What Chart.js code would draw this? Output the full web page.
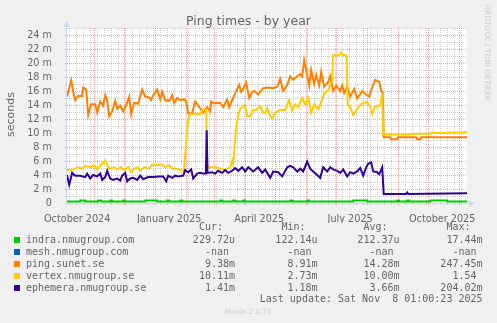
<!DOCTYPE html>
<html>
<head>
<meta charset="utf-8">
<title>Ping times - by year</title>
<script src="https://cdn.jsdelivr.net/npm/chart.js@4.4.1/dist/chart.umd.min.js"></script>
<style>
  html, body { margin: 0; padding: 0; background: #F0F0F0; }
  canvas { display: block; }
</style>
</head>
<body>
<canvas id="pingChart" width="497" height="323"></canvas>
<script>
// Munin style "ping times by year" graph.
// x values are days counted from 1 Oct 2024, y values are milliseconds.

const titleText = 'Ping times - by year';
const unitText = 'seconds';

// y ticks (ms) and month labels on the x axis
const yTickMs = [0, 2, 4, 6, 8, 10, 12, 14, 16, 18, 20, 22, 24];
const xLabelDay = [14, 106, 196, 287, 379];
const xLabelText = ['October 2024', 'January 2025', 'April 2025', 'July 2025', 'October 2025'];

// indra.nmugroup.com
const indraDay = [3.8, 17, 22, 35, 38, 47, 49, 60, 62, 82, 94, 104, 106, 117, 119, 157, 159, 170, 172, 180, 182,
  227, 229, 244, 246, 290, 304, 334, 336, 344, 346, 367, 384, 403.8];
const indraMs = [0.22, 0.36, 0.22, 0.36, 0.22, 0.36, 0.22, 0.36, 0.22, 0.36, 0.22, 0.36, 0.22, 0.36, 0.22, 0.36, 0.22, 0.36, 0.22, 0.36, 0.22,
  0.36, 0.22, 0.36, 0.22, 0.36, 0.22, 0.36, 0.22, 0.36, 0.22, 0.36, 0.22, 0.23];

// mesh.nmugroup.com never answered
const meshDay = [];
const meshMs = [];

// ping.sunet.se
const sunetDay = [3.8, 8, 10, 12, 15, 19, 20, 23, 25, 28,
  32, 34, 37, 40, 42, 44, 46, 49, 52, 54,
  57, 60, 63, 66, 68, 71, 75, 79, 82, 86,
  88, 90, 94, 97, 99, 102, 106, 109, 111, 114,
  117, 121, 123, 125, 129, 132, 135, 137, 140, 144,
  147, 148, 150, 157, 160, 164, 166, 170, 172, 176,
  178, 181, 183, 186, 189, 191, 195, 197, 200, 205,
  210, 214, 217, 220, 224, 227, 230, 234, 237, 239,
  241, 243, 246, 248, 251, 253, 256, 258, 261, 265,
  267, 270, 273, 277, 279, 281, 284, 287, 291, 294,
  299, 302, 306, 309, 312, 316, 318, 319.5, 320.5, 327,
  328, 334, 335, 353, 354, 357, 358, 403.8];
const sunetMs = [15.2, 17.5, 15.9, 14.7, 15.3, 15.3, 16.5, 16.2, 12.6, 14.1,
  14.1, 12.9, 14.5, 13.9, 15.4, 14.7, 12.4, 13.1, 14.6, 13.5,
  13.9, 13.1, 14.0, 15.2, 12.7, 14.3, 14.2, 16.2, 15.2, 15.1,
  14.7, 15.4, 16.2, 14.8, 15.9, 14.7, 14.6, 15.4, 14.3, 15.0,
  14.7, 14.8, 14.5, 12.8, 12.9, 14.5, 13.9, 13.5, 12.9, 13.7,
  13.1, 14.5, 14.3, 14.3, 13.7, 14.8, 13.7, 15.0, 15.7, 16.9,
  15.9, 16.6, 17.2, 15.0, 15.9, 16.0, 15.5, 15.9, 16.4, 16.5,
  16.4, 16.6, 17.7, 16.0, 16.8, 18.1, 17.6, 18.1, 18.4, 18.1,
  20.4, 19.0, 16.8, 19.0, 17.0, 18.3, 16.8, 18.7, 16.6, 17.3,
  18.1, 16.0, 16.8, 16.0, 16.8, 15.7, 16.6, 15.2, 16.3, 14.9,
  16.0, 15.6, 15.2, 16.5, 17.6, 17.3, 16.0, 15.8, 9.4, 9.4,
  9.1, 9.1, 9.4, 9.4, 9.1, 9.1, 9.4, 9.38];

// vertex.nmugroup.se
const vertexDay = [3.8, 9, 12, 15, 19, 22, 27, 31, 34, 37,
  42, 46, 51, 54, 58, 61, 65, 68, 71, 75,
  77, 81, 86, 89, 94, 99, 102, 106, 109, 114,
  117, 120, 121, 124.5, 127, 130, 137, 139, 141, 143,
  144, 147, 154, 157, 162, 167, 169, 170, 173, 175.5,
  177, 180, 182, 184, 187, 190, 193, 197, 200, 202,
  204, 207, 209, 212, 217, 222, 226, 229, 232, 235,
  239, 242, 245, 248, 251, 255, 258, 261, 265, 268,
  269, 270, 276, 278, 280, 283.5, 284.5, 287, 290, 294,
  297, 300, 304, 307, 309, 312, 316, 317, 319, 320,
  347, 350, 367, 369, 372, 403.8];
const vertexMs = [4.7, 4.7, 4.9, 5.1, 4.9, 5.3, 5.1, 5.4, 4.8, 5.3,
  6.1, 4.9, 5.1, 4.8, 5.1, 4.7, 5.1, 4.4, 4.9, 5.1,
  4.6, 5.1, 4.9, 5.5, 5.4, 5.5, 5.1, 5.4, 4.9, 4.9,
  4.7, 4.6, 5.0, 11.4, 12.8, 12.7, 12.7, 13.3, 13.4, 13.3,
  5.3, 5.1, 5.1, 4.9, 4.7, 5.1, 6.1, 5.6, 10.9, 12.8,
  13.5, 13.8, 14.0, 12.4, 12.4, 13.3, 13.3, 13.8, 12.9, 12.9,
  13.5, 12.4, 12.1, 12.9, 13.3, 13.3, 14.7, 13.2, 14.1, 13.7,
  15.0, 14.1, 15.0, 12.9, 14.1, 13.4, 14.4, 15.7, 16.1, 17.1,
  17.5, 21.1, 21.1, 21.5, 21.1, 21.1, 14.0, 13.7, 12.6, 13.4,
  14.0, 14.3, 14.4, 13.7, 12.7, 13.8, 13.9, 14.0, 15.7, 9.8,
  9.8, 9.9, 9.9, 10.1, 10.0, 10.11];

// ephemera.nmugroup.se
const ephemeraDay = [3.8, 6, 9, 12, 17, 22, 24, 27, 30, 34,
  37, 39, 42, 44, 47, 50, 54, 57, 59, 62,
  64, 67, 70, 74, 77, 80, 85, 90, 95, 100,
  103, 105, 109, 112, 115, 120, 122, 125, 128, 130,
  134, 137, 140, 142.7, 143.5, 144.3, 149, 152, 155, 159,
  162, 165, 169, 172, 175, 179, 182, 185, 190, 195,
  199, 202, 207, 210, 215, 219, 224, 227, 230, 234,
  237, 240, 244, 247, 250, 254, 257, 260, 264, 267,
  270, 274, 277, 280, 284, 287, 290, 294, 297, 300,
  303, 305, 308, 310, 314, 316, 319, 320.5, 343, 344,
  345, 403.8];
const ephemeraMs = [4.0, 2.6, 4.3, 3.9, 3.9, 3.7, 4.2, 3.5, 4.0, 3.8,
  4.2, 3.3, 3.7, 4.6, 3.5, 3.3, 3.5, 3.2, 3.9, 4.3,
  3.1, 3.5, 3.6, 3.3, 3.9, 3.4, 3.7, 3.7, 3.8, 3.8,
  3.1, 3.9, 3.6, 3.9, 3.8, 3.9, 4.7, 4.4, 4.8, 3.5,
  4.2, 4.3, 4.2, 4.2, 10.4, 4.3, 4.4, 4.2, 4.6, 4.3,
  4.7, 4.3, 4.6, 5.0, 4.6, 5.1, 4.5, 5.1, 4.5, 5.1,
  4.3, 4.8, 3.6, 4.5, 4.4, 3.8, 5.1, 5.3, 5.1, 4.5,
  4.9, 4.5, 5.9, 4.9, 4.5, 4.0, 3.6, 5.1, 4.5, 5.1,
  4.8, 4.6, 4.3, 4.8, 3.8, 4.4, 4.2, 4.5, 5.0, 3.9,
  5.1, 5.6, 5.8, 4.5, 4.4, 4.1, 5.1, 1.3, 1.3, 1.5,
  1.3, 1.41];

// legend table
const hostNames = ['indra.nmugroup.com', 'mesh.nmugroup.com', 'ping.sunet.se', 'vertex.nmugroup.se', 'ephemera.nmugroup.se'];
const hostColors = ['#00CC00', '#0066B3', '#FF8000', '#FFCC00', '#330099'];
const curText = ['229.72u', '-nan ', '9.38m', '10.11m', '1.41m'];
const minText = ['122.14u', '-nan ', '8.91m', '2.73m', '1.18m'];
const avgText = ['212.37u', '-nan ', '14.28m', '10.00m', '3.66m'];
const maxText = ['17.44m', '-nan ', '247.45m', '1.54 ', '204.02m'];
const colHeads = ['Cur:', 'Min:', 'Avg:', 'Max:'];
const lastUpdate = 'Last update: Sat Nov  8 01:00:23 2025';
const muninVersion = 'Munin 2.0.73';
const sideNote = 'RRDTOOL / TOBI OETIKER';

const DAY0 = Date.UTC(2024, 9, 1);
const dayOf = (y, m, d) => (Date.UTC(y, m, d) - DAY0) / 86400000;
const pts = (days, vals) => days.map((d, i) => ({x: d, y: vals[i]}));

const FONT = '"DejaVu Sans", "Liberation Sans", sans-serif';
const MONO = '"DejaVu Sans Mono", "Liberation Mono", monospace';
const TEXT = '#666666';
const AXIS = '#CFD6F8';
const GRID_MINOR = 'rgba(140,140,140,0.4)';
const GRID_MAJOR = 'rgba(210,60,60,0.45)';

function hline(ctx, x1, x2, y) { ctx.beginPath(); ctx.moveTo(x1, y); ctx.lineTo(x2, y); ctx.stroke(); }
function vline(ctx, x, y1, y2) { ctx.beginPath(); ctx.moveTo(x, y1); ctx.lineTo(x, y2); ctx.stroke(); }

// background, dotted grid and the axes with arrows, rrdtool style
const rrdFrame = {
  id: 'rrdFrame',
  beforeDraw(chart) {
    const {ctx, chartArea: ca, scales: {x: xs, y: ys}} = chart;
    ctx.save();
    ctx.fillStyle = '#F0F0F0';
    ctx.fillRect(0, 0, chart.width, chart.height);
    ctx.fillStyle = '#FFFFFF';
    ctx.fillRect(ca.left, ca.top, ca.right - ca.left, ca.bottom - ca.top);

    ctx.lineWidth = 1;
    ctx.setLineDash([1, 1]);
    // horizontal: every 1 ms, darker every 2 ms
    for (let v = 1; v <= ys.max; v++) {
      const y = Math.round(ys.getPixelForValue(v)) + 0.5;
      ctx.strokeStyle = v % 2 ? GRID_MINOR : GRID_MAJOR;
      hline(ctx, ca.left - 2, ca.right, y);
    }
    // vertical: weeks (Mondays) and month starts
    const months = [];
    for (let m = 0; m < 15; m++) months.push(dayOf(2024, 9 + m, 1));
    ctx.strokeStyle = GRID_MINOR;
    for (let d = 6; d <= xs.max; d += 7) {
      if (d < xs.min || months.includes(d)) continue;
      vline(ctx, Math.round(xs.getPixelForValue(d)) + 0.5, ca.top, ca.bottom + 3);
    }
    ctx.strokeStyle = GRID_MAJOR;
    months.forEach(d => {
      if (d < xs.min || d > xs.max) return;
      vline(ctx, Math.round(xs.getPixelForValue(d)) + 0.5, ca.top, ca.bottom + 3);
    });

    // axes
    ctx.setLineDash([]);
    ctx.strokeStyle = AXIS;
    ctx.fillStyle = AXIS;
    const ax = ca.left - 0.5, ay = ca.bottom + 0.5;
    hline(ctx, ca.left - 3, ca.right + 3, ay);
    vline(ctx, ax, ca.bottom + 3, ca.top - 3);
    ctx.beginPath();
    ctx.moveTo(ca.right + 2, ay - 3); ctx.lineTo(ca.right + 8, ay); ctx.lineTo(ca.right + 2, ay + 3);
    ctx.closePath(); ctx.fill();
    ctx.beginPath();
    ctx.moveTo(ax - 3, ca.top - 1); ctx.lineTo(ax, ca.top - 7); ctx.lineTo(ax + 3, ca.top - 1);
    ctx.closePath(); ctx.fill();
    ctx.restore();
  },
  afterDraw(chart) {
    const {ctx, chartArea: ca} = chart;
    ctx.save();
    ctx.fillStyle = TEXT;

    // title
    ctx.font = '12.5px ' + FONT;
    ctx.textAlign = 'center';
    ctx.textBaseline = 'alphabetic';
    ctx.fillText(titleText, chart.width / 2, 24.5);

    // unit label
    ctx.save();
    ctx.translate(11, (ca.top + ca.bottom) / 2 - 1);
    ctx.rotate(-Math.PI / 2);
    ctx.font = '11px ' + FONT;
    ctx.textBaseline = 'middle';
    ctx.fillText(unitText, 0, 0);
    ctx.restore();

    // legend table
    const colEnd = [235, 317.5, 399.5, 482.5];
    ctx.font = '10px ' + MONO;
    ctx.textBaseline = 'middle';
    ctx.textAlign = 'right';
    colHeads.forEach((h, i) => ctx.fillText(h, colEnd[i] - 12, 227.5));
    hostNames.forEach((name, r) => {
      const y = 240 + r * 12;
      ctx.fillStyle = hostColors[r];
      ctx.fillRect(14, y - 3, 6, 6);
      ctx.fillStyle = TEXT;
      ctx.textAlign = 'left';
      ctx.fillText(name, 26, y);
      ctx.textAlign = 'right';
      [curText, minText, avgText, maxText].forEach((col, i) => ctx.fillText(col[r], colEnd[i], y));
    });
    ctx.fillText(lastUpdate, colEnd[3], 299.5);

    ctx.fillStyle = '#CCCCCC';
    ctx.textAlign = 'center';
    ctx.font = '7.1px ' + FONT;
    ctx.fillText(muninVersion, 248, 312.5);

    ctx.save();
    ctx.translate(487, 53);
    ctx.rotate(Math.PI / 2);
    ctx.font = '7.5px ' + FONT;
    ctx.fillText(sideNote, 0, 0);
    ctx.restore();
    ctx.restore();
  }
};

const line = (i, days, vals, extra) => Object.assign({
  label: hostNames[i],
  data: pts(days, vals),
  borderColor: hostColors[i],
  backgroundColor: hostColors[i],
  order: 5 - i
}, extra || {});

new Chart(document.getElementById('pingChart'), {
  type: 'line',
  data: {
    datasets: [
      line(0, indraDay, indraMs, {stepped: true}),
      line(1, meshDay, meshMs),
      line(2, sunetDay, sunetMs),
      line(3, vertexDay, vertexMs),
      line(4, ephemeraDay, ephemeraMs)
    ]
  },
  options: {
    responsive: false,
    animation: false,
    devicePixelRatio: 1,
    layout: {padding: {top: 28, right: 30, bottom: 100, left: 0}},
    elements: {
      point: {radius: 0},
      line: {borderWidth: 2, tension: 0, fill: false}
    },
    plugins: {legend: {display: false}, tooltip: {enabled: false}, title: {display: false}},
    scales: {
      x: {
        type: 'linear',
        min: 3.8,
        max: 403.8,
        grid: {display: false},
        border: {display: false},
        afterFit: s => { s.height = 20; },
        afterBuildTicks: s => { s.ticks = xLabelDay.map(v => ({value: v})); },
        ticks: {
          autoSkip: false, maxRotation: 0, padding: 3, color: TEXT,
          font: {family: FONT, size: 9.7},
          callback: (v, i) => xLabelText[i]
        }
      },
      y: {
        min: 0,
        max: 25,
        grid: {display: false},
        border: {display: false},
        afterFit: s => { s.width = 67; },
        afterBuildTicks: s => { s.ticks = yTickMs.map(v => ({value: v})); },
        ticks: {
          autoSkip: false, padding: 7, color: TEXT,
          font: {family: FONT, size: 9.7},
          callback: v => v === 0 ? '0' : v + ' m'
        }
      }
    }
  },
  plugins: [rrdFrame]
});
</script>
</body>
</html>
